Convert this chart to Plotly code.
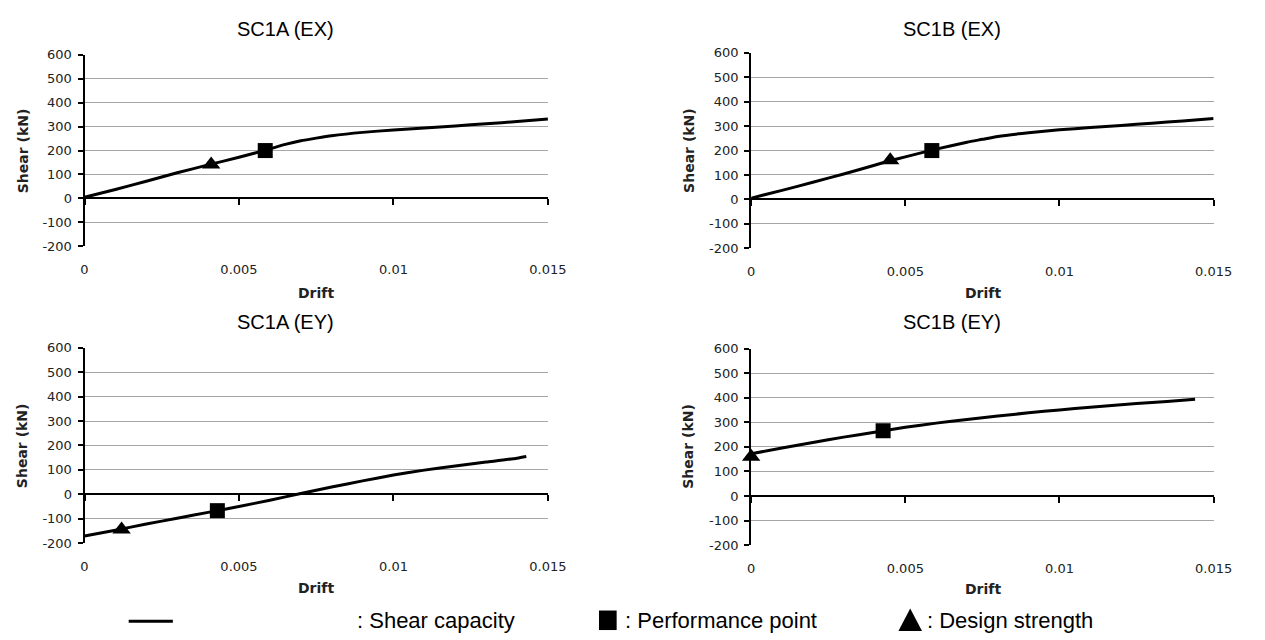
import plotly.graph_objects as go

# ---------------- data ----------------
drift_1a_ex = [0, 0.001, 0.002, 0.003, 0.004, 0.005, 0.006, 0.0065, 0.007, 0.0075, 0.008, 0.009, 0.010, 0.011, 0.012, 0.013, 0.014, 0.015]
shear_1a_ex = [5, 37, 72, 107, 140, 172, 207, 226, 241, 252, 262, 276, 286, 294, 303, 312, 321, 332]
perf_1a_ex = (0.00585, 200)
design_1a_ex = (0.0041, 142)

drift_1b_ex = [0, 0.001, 0.002, 0.003, 0.004, 0.0045, 0.005, 0.006, 0.007, 0.0075, 0.008, 0.009, 0.010, 0.011, 0.012, 0.013, 0.014, 0.015]
shear_1b_ex = [5, 37, 70, 104, 140, 158, 174, 206, 234, 246, 258, 273, 285, 294, 303, 312, 321, 331]
perf_1b_ex = (0.00586, 200)
design_1b_ex = (0.00451, 160)

drift_1a_ey = [0, 0.001, 0.002, 0.003, 0.004, 0.005, 0.006, 0.007, 0.008, 0.009, 0.010, 0.011, 0.012, 0.013, 0.014, 0.0143]
shear_1a_ey = [-171, -147, -122, -98, -74, -50, -24, 3, 30, 55, 79, 99, 116, 132, 148, 155]
perf_1a_ey = (0.0043, -67)
design_1a_ey = (0.0012, -144)

drift_1b_ey = [0, 0.001, 0.002, 0.003, 0.004, 0.005, 0.006, 0.007, 0.008, 0.009, 0.010, 0.011, 0.012, 0.013, 0.014, 0.0144]
shear_1b_ey = [172, 196, 218, 240, 260, 280, 297, 312, 326, 339, 351, 362, 372, 381, 390, 394]
perf_1b_ey = (0.00428, 266)
design_1b_ey = (0.0, 160)

titles = ["SC1A (EX)", "SC1B (EX)", "SC1A (EY)", "SC1B (EY)"]
x_ticks = [0, 0.005, 0.01, 0.015]
x_tick_text = ["0", "0.005", "0.01", "0.015"]
y_ticks = [-200, -100, 0, 100, 200, 300, 400, 500, 600]
y_tick_text = ["-200", "-100", "0", "100", "200", "300", "400", "500", "600"]
legend_labels = [": Shear capacity", ": Performance point", ": Design strength"]

panels = [
    (drift_1a_ex, shear_1a_ex, perf_1a_ex, design_1a_ex),
    (drift_1b_ex, shear_1b_ex, perf_1b_ex, design_1b_ex),
    (drift_1a_ey, shear_1a_ey, perf_1a_ey, design_1a_ey),
    (drift_1b_ey, shear_1b_ey, perf_1b_ey, design_1b_ey),
]

# ---------------- layout geometry (pixels) ----------------
W, H = 1265, 640
boxes = [  # left, right, top, bottom
    (82, 554, 49, 245),
    (761, 1232, 47, 247),
    (82, 554, 349, 549),
    (761, 1232, 350, 551),
]
title_pos = [(287, 23), (966, 23), (287, 323), (966, 323)]
drift_pos = [(318, 293), (997, 293), (318, 595), (997, 596)]
shear_pos = [(19, 147), (697, 147), (19, 449), (697, 450)]

def px(x):
    return x / W

def py(y):
    return 1 - y / H

TICK_FONT = dict(family="DejaVu Sans", size=13, color="#222222")
GRID = "#a6a6a6"

fig = go.Figure()
layout = dict(
    width=W, height=H,
    margin=dict(l=0, r=0, t=0, b=0),
    paper_bgcolor="white", plot_bgcolor="white",
    showlegend=False,
)
annotations = []

for i, ((dx, sy, perf, des), (l, r, t, b)) in enumerate(zip(panels, boxes)):
    n = i + 1
    xa = "x" if n == 1 else f"x{n}"
    ya = "y" if n == 1 else f"y{n}"
    xkey = "xaxis" if n == 1 else f"xaxis{n}"
    ykey = "yaxis" if n == 1 else f"yaxis{n}"
    ydom = [py(b), py(t)]
    layout[xkey] = dict(
        domain=[px(l), px(r)], anchor=ya, range=[0, 0.015],
        tickvals=x_ticks, ticktext=x_tick_text,
        showgrid=False, zeroline=False, showline=False,
        ticks="outside", ticklen=11, tickcolor="rgba(0,0,0,0)",
        tickfont=TICK_FONT, fixedrange=True,
    )
    layout[ykey] = dict(
        domain=ydom, anchor=xa, range=[-200, 600],
        tickvals=y_ticks, ticktext=y_tick_text,
        showgrid=True, gridcolor=GRID, gridwidth=1,
        zeroline=True, zerolinecolor="black", zerolinewidth=2,
        showline=True, linecolor="black", linewidth=2,
        ticks="outside", ticklen=5, tickwidth=2, tickcolor="black",
        tickfont=TICK_FONT, ticklabelstandoff=3, fixedrange=True,
    )
    # overlay axis drawing tick marks along the zero line
    on = n + 4
    okey = f"xaxis{on}"
    zero_frac = (0 - (-200)) / (600 - (-200))
    layout[okey] = dict(
        overlaying=xa, anchor="free",
        position=ydom[0] + zero_frac * (ydom[1] - ydom[0]),
        domain=[px(l), px(r)], range=[0, 0.015], tickvals=x_ticks,
        showticklabels=False, showgrid=False, zeroline=False, showline=False,
        ticks="outside", ticklen=6, tickwidth=2, tickcolor="black",
        fixedrange=True,
    )
    fig.add_trace(go.Scatter(x=[None], y=[None], xaxis=f"x{on}", yaxis=ya,
                             mode="lines", hoverinfo="skip"))

    fig.add_trace(go.Scatter(x=dx, y=sy, xaxis=xa, yaxis=ya, mode="lines",
                             line=dict(color="black", width=3, shape="spline", smoothing=0.6),
                             name="Shear capacity"))
    fig.add_trace(go.Scatter(x=[perf[0]], y=[perf[1]], xaxis=xa, yaxis=ya, mode="markers",
                             marker=dict(symbol="square", size=15, color="black"),
                             name="Performance point", cliponaxis=False))
    fig.add_trace(go.Scatter(x=[des[0]], y=[des[1]], xaxis=xa, yaxis=ya, mode="markers",
                             marker=dict(symbol="triangle-up", size=16, color="black"),
                             name="Design strength", cliponaxis=False))

    tx, ty = title_pos[i]
    annotations.append(dict(text=titles[i], x=px(tx), y=py(ty), xref="paper", yref="paper",
                            showarrow=False, xanchor="center", yanchor="middle",
                            font=dict(family="Liberation Sans", size=20, color="black")))
    dxp, dyp = drift_pos[i]
    annotations.append(dict(text="<b>Drift</b>", x=px(dxp), y=py(dyp), xref="paper", yref="paper",
                            showarrow=False, xanchor="center", yanchor="middle",
                            font=dict(family="DejaVu Sans", size=14, color="#222222")))
    sxp, syp = shear_pos[i]
    annotations.append(dict(text="<b>Shear (kN)</b>", x=px(sxp), y=py(syp), xref="paper", yref="paper",
                            showarrow=False, xanchor="center", yanchor="middle", textangle=-90,
                            font=dict(family="DejaVu Sans", size=14, color="#222222")))

# ---------------- legend row (drawn as text + symbols in paper space) ----------------
LEG_FONT = dict(family="Liberation Sans", size=22, color="black")
leg_y = py(628)
annotations.append(dict(text=legend_labels[0], x=px(357), y=leg_y, xref="paper", yref="paper",
                        showarrow=False, xanchor="left", yanchor="middle", font=LEG_FONT))
annotations.append(dict(text=legend_labels[1], x=px(630), y=leg_y, xref="paper", yref="paper",
                        showarrow=False, xanchor="left", yanchor="middle", font=LEG_FONT))
annotations.append(dict(text=legend_labels[2], x=px(938), y=leg_y, xref="paper", yref="paper",
                        showarrow=False, xanchor="left", yanchor="middle", font=LEG_FONT))
layout["shapes"] = [
    dict(type="line", xref="paper", yref="paper", x0=px(127), x1=px(172), y0=py(629), y1=py(629),
         line=dict(color="black", width=3)),
    dict(type="rect", xref="paper", yref="paper", x0=px(606), x1=px(624), y0=py(638), y1=py(618),
         line=dict(width=0), fillcolor="black"),
    dict(type="path", xref="paper", yref="paper",
         path=f"M {px(911)},{py(639)} L {px(935)},{py(639)} L {px(923)},{py(616)} Z",
         line=dict(width=0), fillcolor="black"),
]
layout["annotations"] = annotations
fig.update_layout(**layout)

fig.write_html("out.html")
